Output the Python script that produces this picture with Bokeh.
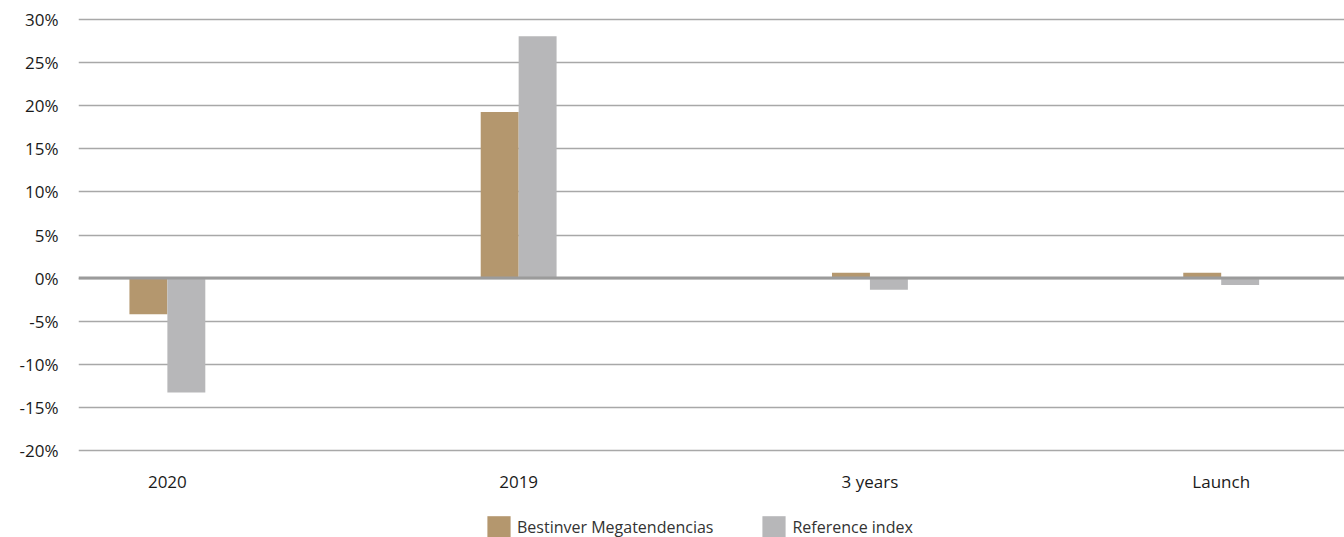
from bokeh.plotting import figure
from bokeh.layouts import column
from bokeh.models import (ColumnDataSource, FixedTicker, Legend, LegendItem,
                          Span, Range1d)
from bokeh.transform import dodge
from bokeh.embed import file_html
from bokeh.resources import INLINE

# Returns by period (%)
periods = ["2020", "2019", "3 years", "Launch"]
fund_returns = [-4.2, 19.3, 0.6, 0.6]
index_returns = [-13.3, 28.1, -1.35, -0.8]
series_names = ["Bestinver Megatendencias", "Reference index"]
y_ticks = [-20, -15, -10, -5, 0, 5, 10, 15, 20, 25, 30]

FUND_COLOR = "#b4976e"
INDEX_COLOR = "#b7b7b9"
TEXT_COLOR = "#1a1a1a"
FONT = "Open Sans"

source = ColumnDataSource(dict(
    pos=list(range(len(periods))),
    fund=fund_returns,
    index=index_returns,
))

p = figure(width=1344, height=497, output_backend="svg", toolbar_location=None,
           x_range=Range1d(-0.253, 3.351), y_range=Range1d(-20.5, 30.5),
           min_border_left=78, min_border_right=0, min_border_top=15,
           min_border_bottom=43)
p.outline_line_color = None
p.background_fill_color = "white"
p.border_fill_color = "white"

bar_w = 0.108
p.vbar(x=dodge("pos", -bar_w / 2, range=p.x_range), top="fund", bottom=0,
       width=bar_w, source=source, fill_color=FUND_COLOR, line_color=None)
p.vbar(x=dodge("pos", bar_w / 2, range=p.x_range), top="index", bottom=0,
       width=bar_w, source=source, fill_color=INDEX_COLOR, line_color=None)

# Zero baseline
p.add_layout(Span(location=0, dimension="width", line_color="#9b9b9b", line_width=3))

# Grid
p.xgrid.grid_line_color = None
p.ygrid.grid_line_color = "#a8a8a8"
p.ygrid.grid_line_width = 1.5
p.ygrid.ticker = FixedTicker(ticks=y_ticks)

# Y axis
p.yaxis.ticker = FixedTicker(ticks=y_ticks)
p.yaxis.major_label_overrides = {t: f"{t}%" for t in y_ticks}
p.yaxis.axis_line_color = None
p.yaxis.major_tick_line_color = None
p.yaxis.major_tick_out = 0
p.yaxis.minor_tick_line_color = None
p.yaxis.minor_tick_out = 0
p.yaxis.major_label_standoff = 20
p.yaxis.major_label_text_font = FONT
p.yaxis.major_label_text_font_size = "17px"
p.yaxis.major_label_text_color = TEXT_COLOR

# X axis
p.xaxis.ticker = FixedTicker(ticks=list(range(len(periods))))
p.xaxis.major_label_overrides = {i: name for i, name in enumerate(periods)}
p.xaxis.axis_line_color = None
p.xaxis.major_tick_line_color = None
p.xaxis.major_tick_out = 0
p.xaxis.minor_tick_line_color = None
p.xaxis.minor_tick_out = 0
p.xaxis.major_label_standoff = 15
p.xaxis.major_label_text_font = FONT
p.xaxis.major_label_text_font_size = "17px"
p.xaxis.major_label_text_color = TEXT_COLOR

# Legend strip underneath the chart (swatch renderers stay hidden)
leg = figure(width=1344, height=40, output_backend="svg", toolbar_location=None,
             x_range=Range1d(0, 1), y_range=Range1d(0, 1),
             min_border=0, x_axis_location=None, y_axis_location=None)
leg.outline_line_color = None
leg.xgrid.visible = False
leg.ygrid.visible = False
sw_fund = leg.vbar(x="pos", top="fund", width=0.1, source=source,
                   fill_color=FUND_COLOR, line_color=None, visible=False)
sw_index = leg.vbar(x="pos", top="index", width=0.1, source=source,
                    fill_color=INDEX_COLOR, line_color=None, visible=False)

legend = Legend(
    items=[LegendItem(label=series_names[0], renderers=[sw_fund]),
           LegendItem(label=series_names[1], renderers=[sw_index])],
    orientation="horizontal", location=(406, -3), click_policy="none",
    glyph_width=29, glyph_height=27, label_height=27, label_standoff=4, spacing=46,
    padding=0, margin=0, border_line_color=None, background_fill_alpha=0,
    label_text_font=FONT, label_text_font_size="16px",
    label_text_color="#333333",
)
leg.add_layout(legend, "center")

layout = column(p, leg, spacing=0)
open("out.html", "w").write(file_html(layout, INLINE))
